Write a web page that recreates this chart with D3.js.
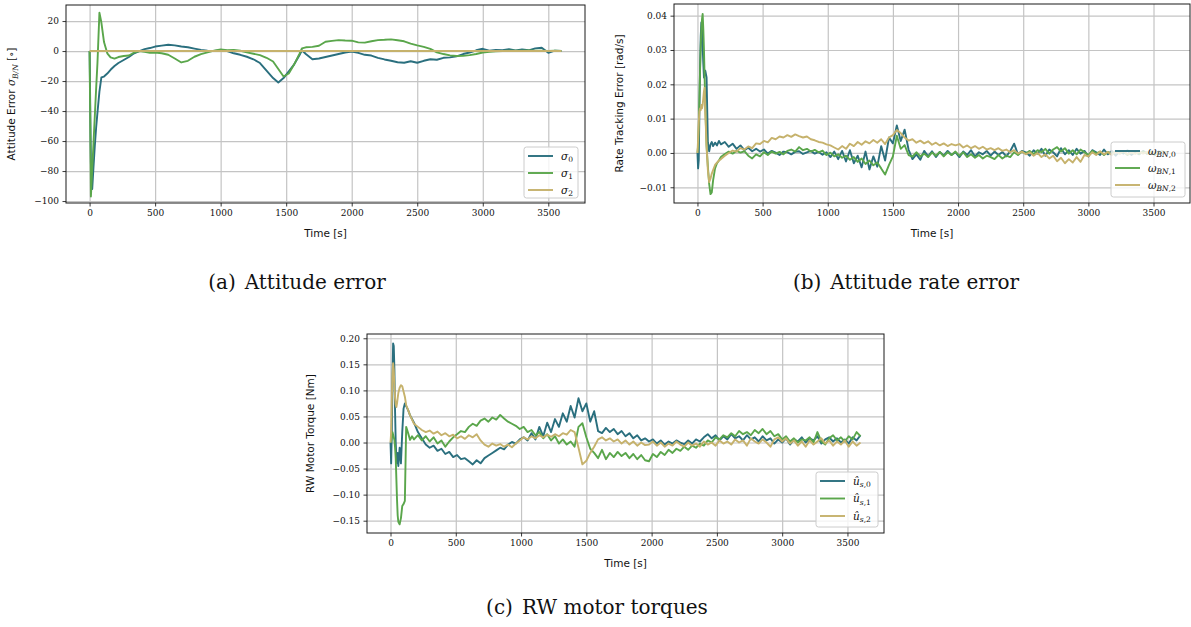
<!DOCTYPE html>
<html>
<head>
<meta charset="utf-8">
<script src="https://cdn.jsdelivr.net/npm/d3@7"></script>
<style>
  body { margin: 0; background: #fff; }
  .grid line { stroke: #c4c4c4; stroke-width: 1.2; }
  .axis text { font-family: "DejaVu Serif", serif; font-size: 9px; fill: #111; }
  .axis line { stroke: #222; stroke-width: 0.9; }
  .lbl { font-family: "DejaVu Sans", sans-serif; font-size: 10.5px; fill: #111; }
  .leg { font-family: "DejaVu Serif", serif; font-size: 10.5px; fill: #111; }
  .cap { font-family: "DejaVu Serif", serif; font-size: 20px; fill: #111; }
</style>
</head>
<body>
<svg id="figure" width="1191" height="627"></svg>
<script>
// ---------- data ----------
const X_TICKS = [0, 500, 1000, 1500, 2000, 2500, 3000, 3500];
const Y_TICKS_A = [-100, -80, -60, -40, -20, 0, 20];
const Y_TICKS_B = [-0.01, 0.00, 0.01, 0.02, 0.03, 0.04];
const Y_TICKS_C = [-0.15, -0.10, -0.05, 0.00, 0.05, 0.10, 0.15, 0.20];

// (a) attitude error, time [s]
const T_A = [0,10,20,30,40,50,60,75,90,110,135,160,190,220,260,300,340,380,420,460,
  500,550,600,650,700,750,800,850,900,950,1000,1050,1100,1150,1200,1250,1300,1350,1400,1440,
  1480,1520,1560,1600,1620,1650,1700,1750,1800,1850,1900,1950,2000,2050,2100,2150,2200,2250,
  2300,2350,2400,2450,2500,2550,2600,2650,2700,2750,2800,2850,2900,2950,3000,3050,3100,3150,
  3200,3250,3300,3350,3400,3450,3500,3550,3600];
const SIGMA_0 = [0,-75,-92,-77,-63,-51,-41,-27,-17.5,-17,-15,-12.5,-10,-8,-6,-4,-1.5,0,1.3,2,
  3,3.6,4.2,3.8,3,2.5,1.6,0.8,0.3,0,0.5,0,-1.5,-2.5,-3.8,-5.5,-8,-13,-18,-21,
  -18,-13.5,-9,-3,0.5,-2,-5.5,-5,-4,-3,-2,-1,-0.3,-1.2,-2.5,-3,-4.5,-5.6,
  -6.5,-7.5,-7.8,-6.8,-7.8,-6.5,-5.5,-5.8,-4.5,-4.2,-3.5,-2,-1,0.5,1.5,0.2,0.8,0.5,
  1.2,0.4,1,0.5,1.8,2.2,-1.2,0.3,0];
const SIGMA_1 = [0,-97,-79,-61,-43,-25,-8,25.5,19,6,-1.5,-4.2,-5,-4,-3.3,-3,-1,0,-0.5,-1.2,
  -1,-1.5,-2.5,-5,-7.6,-6.5,-3.8,-2,-0.9,0.3,1.1,0.6,0.8,0.2,-0.9,-1.8,-2.7,-4.5,-7,-12,
  -17,-15,-9,-2,1.8,2.5,2.8,3.5,6.2,6.8,7.3,7.0,6.9,5.8,5.6,6.5,7.3,7.5,
  7.8,7.2,6.5,5,3.8,2.8,1.5,-0.9,-2,-2.9,-3.3,-3.2,-2.7,-2,-1,-0.5,-0.2,0,
  0.2,0.3,0.2,0.4,0.2,0.3,0.1,0.2,0];
const SIGMA_2_T = [0, 3600];
const SIGMA_2 = [0, 0];

// (b) and (c) share one time grid [s]
const T_BC = [0,5,10,15,20,25,30,35,40,45,50,55,60,70,80,90,100,110,120,135,150,165,
  180,210,240,270,300,330,360,390,420,450,
  480,510,540,570,600,630,660,690,720,750,
  780,810,840,870,900,930,960,990,1020,1050,
  1080,1110,1140,1170,1200,1230,1260,1290,1320,1350,
  1380,1410,1440,1470,1500,1530,1560,1590,1620,1650,
  1680,1710,1740,1770,1800,1830,1860,1890,1920,1950,
  1980,2010,2040,2070,2100,2130,2160,2190,2220,2250,
  2280,2310,2340,2370,2400,2430,2460,2490,2520,2550,
  2580,2610,2640,2670,2700,2730,2760,2790,2820,2850,
  2880,2910,2940,2970,3000,3030,3060,3090,3120,3150,
  3180,3210,3240,3270,3300,3330,3360,3390,3420,3450,
  3480,3510,3540,3570,3600];

// (b) rate tracking error [rad/s]
const OMEGA_0 = [0,-0.0045,-0.002,0.012,0.025,0.034,0.038,0.036,0.031,0.026,0.022,0.023,0.024,0.022,0.003,0.0005,0.0025,0.0032,0.0020,0.0030,0.0022,0.0035,
  0.0025,0.0032,0.0018,0.0027,0.0012,0.0022,0.0008,0.0015,0.0005,0.0012,
  0.0004,0.0010,-0.0002,0.0006,0.0001,-0.0006,0.0004,0.0002,-0.0004,0.0003,
  0.0005,-0.0003,0.0002,0.0006,-0.0002,0.0003,-0.0005,0.0002,-0.0012,0.0004,
  -0.0018,0.0006,-0.0025,0.0008,-0.0030,-0.0008,-0.0042,0.0004,-0.0048,-0.0010,
  -0.0040,0.0020,-0.0022,0.0045,0.0028,0.0080,0.0035,0.0068,0.0010,-0.0018,
  -0.0004,-0.0020,0.0006,-0.0010,0.0005,-0.0012,0.0003,-0.0008,0.0006,-0.0006,
  0.0002,-0.0012,0.0004,-0.0006,0.0008,-0.0010,0.0002,-0.0004,0.0006,-0.0008,
  0.0004,-0.0006,0.0003,-0.0010,0.0005,0.0027,-0.0004,0.0006,0.0002,-0.0008,
  0.0008,-0.0002,0.0012,-0.0008,0.0010,0.0002,-0.0010,0.0014,-0.0004,0.0008,
  -0.0006,0.0012,-0.0002,0.0006,-0.0010,0.0008,0.0002,-0.0006,0.0010,-0.0004,
  0.0006,-0.0008,0.0004,-0.0002,0.0008,-0.0006,0.0003,-0.0004,0.0006,-0.0002,
  0.0004,-0.0006,0.0005,-0.0002,0.0003];
const OMEGA_1 = [0,0.002,0.008,0.016,0.024,0.031,0.036,0.039,0.0405,0.036,0.030,0.022,0.014,0.002,-0.004,-0.009,-0.012,-0.0115,-0.008,-0.0045,-0.003,-0.0022,
  -0.0012,-0.0003,0.0004,-0.0002,0.0006,0.0001,0.0005,-0.0008,-0.0016,-0.0004,
  -0.0010,0.0002,-0.0006,0.0004,-0.0002,0.0003,-0.0004,0.0006,0.0010,0.0004,
  0.0017,0.0008,0.0012,0.0004,0.0009,0.0002,0.0007,-0.0006,0.0001,-0.0010,
  -0.0004,-0.0014,-0.0008,-0.0020,-0.0012,-0.0026,-0.0016,-0.0032,-0.0022,-0.0036,
  -0.0028,-0.0045,-0.0063,-0.0035,-0.0010,0.0050,0.0012,0.0023,-0.0006,-0.0011,
  0.0002,-0.0010,-0.0002,-0.0012,0.0001,-0.0008,0.0003,-0.0010,0.0002,-0.0006,
  0.0004,-0.0008,0.0002,-0.0012,-0.0004,-0.0014,-0.0006,-0.0016,-0.0008,-0.0012,
  -0.0018,-0.0006,-0.0016,-0.0008,-0.0012,0.0002,-0.0006,0.0004,-0.0002,0.0006,
  -0.0004,0.0008,0.0002,0.0012,-0.0002,0.0010,0.0017,0.0004,0.0014,-0.0002,
  0.0008,-0.0004,0.0010,0.0002,-0.0006,0.0006,-0.0002,0.0004,-0.0006,0.0003,
  -0.0004,0.0006,-0.0002,0.0004,-0.0006,0.0002,0.0005,-0.0003,0.0004,-0.0002,
  0.0003,-0.0004,0.0002,0.0005,-0.0001];
const OMEGA_2 = [0,0.004,0.009,0.012,0.013,0.0125,0.014,0.013,0.014,0.016,0.018,0.019,0.012,0.002,-0.005,-0.0085,-0.0075,-0.006,-0.005,-0.0035,-0.0028,-0.0022,
  -0.0018,-0.0008,0.0000,0.0007,0.0004,0.0014,0.0010,0.0019,0.0014,0.0028,
  0.0026,0.0035,0.0031,0.0044,0.0040,0.0048,0.0045,0.0052,0.0047,0.0054,
  0.0049,0.0045,0.0048,0.0040,0.0037,0.0032,0.0030,0.0025,0.0022,0.0016,
  0.0010,0.0020,0.0012,0.0027,0.0020,0.0032,0.0024,0.0034,0.0028,0.0038,
  0.0030,0.0040,0.0026,0.0045,0.0052,0.0067,0.0058,0.0045,0.0036,0.0040,
  0.0030,0.0036,0.0028,0.0034,0.0024,0.0030,0.0022,0.0028,0.0020,0.0026,
  0.0022,0.0026,0.0016,0.0022,0.0014,0.0020,0.0012,0.0018,0.0010,0.0014,
  0.0008,0.0014,0.0006,0.0010,0.0002,0.0008,-0.0002,0.0004,-0.0004,0.0002,
  -0.0008,0.0000,-0.0012,-0.0004,-0.0016,-0.0008,-0.0024,-0.0014,-0.0030,-0.0018,
  -0.0028,-0.0012,-0.0026,-0.0006,-0.0010,0.0002,-0.0006,0.0004,-0.0004,0.0003,
  -0.0006,0.0004,-0.0002,0.0005,-0.0004,0.0002,-0.0003,0.0004,-0.0002,0.0003,
  -0.0004,0.0002,-0.0003,0.0004,0.0000];

// (c) RW motor torque [Nm]
const U_0 = [0,-0.04,0.02,0.12,0.19,0.185,0.14,0.06,0.0,-0.03,-0.04,-0.02,-0.045,-0.01,-0.04,0.02,0.065,0.075,0.07,0.062,0.052,0.045,
  0.038,0.020,0.008,-0.004,-0.010,-0.006,-0.016,-0.012,-0.022,-0.018,
  -0.028,-0.024,-0.032,-0.030,-0.036,-0.042,-0.034,-0.040,-0.030,-0.025,
  -0.020,-0.015,-0.010,-0.013,-0.004,0.001,-0.002,0.006,0.010,0.004,
  0.018,0.006,0.030,0.012,0.038,0.020,0.045,0.030,0.056,0.040,
  0.070,0.048,0.085,0.060,0.075,0.040,0.060,0.022,0.018,0.028,
  0.020,0.026,0.016,0.022,0.012,0.018,0.008,0.014,0.004,0.008,
  0.002,0.006,-0.002,0.004,-0.004,0.002,-0.002,0.004,0.000,-0.003,
  0.004,-0.002,0.006,0.002,0.010,0.016,0.008,0.014,0.004,0.012,
  0.006,0.016,0.008,0.012,0.004,0.014,0.006,0.010,0.002,0.012,
  0.004,0.008,-0.002,0.006,0.000,0.008,-0.004,0.006,0.002,0.010,
  0.000,0.008,0.004,0.012,-0.002,0.006,0.010,0.002,0.008,0.000,
  0.006,-0.002,0.010,0.004,0.014];
const U_1 = [0,0.002,0.01,0.02,0.015,0.01,0.005,-0.01,-0.03,-0.07,-0.11,-0.14,-0.152,-0.157,-0.145,-0.122,-0.118,-0.112,0.030,0.018,0.005,0.012,
  0.006,0.014,0.004,0.012,0.002,0.010,-0.002,0.004,-0.008,0.002,
  0.010,0.016,0.022,0.020,0.030,0.036,0.032,0.042,0.046,0.040,
  0.048,0.044,0.053,0.046,0.040,0.036,0.032,0.026,0.030,0.020,
  0.024,0.014,0.020,0.008,0.016,0.004,0.012,-0.002,0.006,-0.004,
  0.002,-0.008,0.030,0.037,0.010,-0.012,-0.020,-0.030,-0.014,-0.032,
  -0.020,-0.028,-0.018,-0.026,-0.020,-0.030,-0.022,-0.032,-0.024,-0.034,
  -0.036,-0.022,-0.028,-0.018,-0.024,-0.014,-0.020,-0.012,-0.016,-0.008,
  -0.014,-0.006,-0.010,-0.002,-0.006,0.004,0.000,0.010,0.006,0.014,
  0.010,0.018,0.012,0.022,0.016,0.020,0.014,0.024,0.018,0.026,
  0.016,0.022,0.012,0.016,0.006,0.012,0.002,0.008,0.000,0.006,
  0.004,0.010,0.000,0.020,0.002,-0.004,0.008,0.014,0.004,0.010,
  0.002,0.012,0.006,0.020,0.012];
const U_2 = [0,0.02,0.08,0.13,0.152,0.14,0.11,0.085,0.072,0.068,0.075,0.085,0.095,0.105,0.11,0.108,0.098,0.088,0.072,0.062,0.052,0.044,
  0.036,0.030,0.024,0.020,0.023,0.017,0.021,0.014,0.018,0.012,
  0.015,0.008,0.012,0.007,0.014,0.010,0.016,0.004,-0.004,-0.008,
  -0.002,-0.006,-0.003,-0.008,-0.004,-0.009,-0.002,0.004,0.010,0.006,
  0.012,0.008,0.014,0.010,0.015,0.011,0.016,0.012,0.018,0.015,
  0.024,0.020,-0.010,-0.042,-0.035,-0.020,-0.008,0.006,0.010,0.004,
  0.008,0.002,0.006,-0.002,0.004,-0.004,0.002,-0.006,0.000,-0.005,
  -0.004,0.002,-0.006,0.000,-0.008,-0.002,-0.006,0.002,-0.004,-0.008,
  0.000,-0.006,-0.002,-0.008,0.002,-0.004,0.000,-0.006,0.004,-0.002,
  0.002,-0.004,0.006,0.000,0.004,-0.006,0.008,0.002,-0.002,0.006,
  0.000,-0.008,0.006,0.010,0.002,0.008,-0.002,0.004,-0.006,0.002,
  -0.008,0.004,-0.004,0.002,0.008,-0.002,0.004,-0.006,0.002,-0.004,
  0.004,-0.008,0.002,-0.006,0.000];

const COLORS = ["#2a6f7e", "#5aa64b", "#c6b26c"];

// ---------- layout ----------
const FIG = d3.select("#figure");
const X_DOMAIN = [-180, 3780];

// small helper: text made of parts, some italic / subscript
function add_parts(textSel, parts) {
  let shift = 0;
  parts.forEach((p) => {
    const want = p.sub ? 2.8 : 0;
    const ts = textSel.append("tspan")
      .attr("dy", want - shift)
      .text(p.t);
    if (p.i) ts.attr("font-style", "italic");
    if (p.sub) ts.attr("font-size", "7.5px");
    if (p.f) ts.attr("font-family", p.f);
    shift = want;
  });
}

function build_panel(p) {
  const X = d3.scaleLinear().domain(X_DOMAIN).range([p.left, p.right]);
  const Y = d3.scaleLinear().domain(p.yDomain).range([p.bottom, p.top]);
  const W = p.right - p.left, H = p.bottom - p.top;
  const g = FIG.append("g");

  FIG.append("clipPath").attr("id", "clip-" + p.id)
    .append("rect").attr("x", p.left).attr("y", p.top).attr("width", W).attr("height", H);

  // grid
  g.append("g").attr("class", "grid")
    .attr("transform", "translate(0," + p.bottom + ")")
    .call(d3.axisBottom(X).tickValues(X_TICKS).tickSize(-H).tickFormat(""));
  g.append("g").attr("class", "grid")
    .attr("transform", "translate(" + p.left + ",0)")
    .call(d3.axisLeft(Y).tickValues(p.yTicks).tickSize(-W).tickFormat(""));
  g.selectAll(".grid .domain").remove();

  // lines
  p.series.forEach((s) => {
    const line = d3.line()
      .x((d, i) => X(s.t[i]))
      .y((d) => Y(d));
    g.append("path")
      .datum(s.v)
      .attr("d", line)
      .attr("fill", "none")
      .attr("stroke", s.color)
      .attr("stroke-width", 1.9)
      .attr("stroke-linejoin", "round")
      .attr("clip-path", "url(#clip-" + p.id + ")");
  });

  // axes
  const xa = g.append("g").attr("class", "axis")
    .attr("transform", "translate(0," + p.bottom + ")")
    .call(d3.axisBottom(X).tickValues(X_TICKS).tickSize(3.5).tickPadding(3.5).tickFormat(d3.format("d")));
  const ya = g.append("g").attr("class", "axis")
    .attr("transform", "translate(" + p.left + ",0)")
    .call(d3.axisLeft(Y).tickValues(p.yTicks).tickSize(3.5).tickPadding(3.5).tickFormat(p.yFormat));
  xa.select(".domain").remove();
  ya.select(".domain").remove();

  g.append("rect")
    .attr("x", p.left).attr("y", p.top).attr("width", W).attr("height", H)
    .attr("fill", "none").attr("stroke", "#1a1a1a").attr("stroke-width", 1);

  // axis labels
  g.append("text").attr("class", "lbl")
    .attr("x", (p.left + p.right) / 2).attr("y", p.bottom + 34)
    .attr("text-anchor", "middle")
    .text("Time [s]");
  const yl = g.append("text").attr("class", "lbl")
    .attr("text-anchor", "middle")
    .attr("transform", "translate(" + p.ylabelX + "," + (p.top + p.bottom) / 2 + ") rotate(-90)");
  add_parts(yl, p.ylabel);

  // legend
  const lg = p.legend;
  g.append("rect")
    .attr("x", lg.x).attr("y", lg.y).attr("width", lg.w).attr("height", lg.h)
    .attr("rx", 2.5)
    .attr("fill", "#fff").attr("fill-opacity", 0.8)
    .attr("stroke", "#cccccc").attr("stroke-width", 1);
  p.series.forEach((s, i) => {
    const yy = lg.y + 9 + i * lg.step;
    g.append("line")
      .attr("x1", lg.x + 4).attr("x2", lg.x + 29)
      .attr("y1", yy).attr("y2", yy)
      .attr("stroke", s.color).attr("stroke-width", 1.9);
    const t = g.append("text").attr("class", "leg")
      .attr("x", lg.x + 37).attr("y", yy + 3.5);
    add_parts(t, s.label);
  });
}

const SERIF = "DejaVu Serif";

build_panel({
  id: "a", left: 66, top: 5, right: 585, bottom: 203,
  yDomain: [-101.3, 30.7], yTicks: Y_TICKS_A, yFormat: d3.format("d"),
  ylabelX: 15,
  ylabel: [{t: "Attitude Error "}, {t: "σ", i: true, f: SERIF}, {t: "B/N", i: true, sub: true, f: SERIF},
           {t: " [∘]", f: SERIF}],
  legend: {x: 524, y: 147, w: 54, h: 51, step: 17},
  series: [
    {t: T_A, v: SIGMA_0, color: COLORS[0], label: [{t: "σ", i: true}, {t: "0", sub: true}]},
    {t: T_A, v: SIGMA_1, color: COLORS[1], label: [{t: "σ", i: true}, {t: "1", sub: true}]},
    {t: SIGMA_2_T, v: SIGMA_2, color: COLORS[2], label: [{t: "σ", i: true}, {t: "2", sub: true}]}
  ]
});

build_panel({
  id: "b", left: 674, top: 4, right: 1190, bottom: 203,
  yDomain: [-0.01458, 0.0434], yTicks: Y_TICKS_B, yFormat: d3.format(".2f"),
  ylabelX: 623,
  ylabel: [{t: "Rate Tracking Error [rad/s]"}],
  legend: {x: 1111, y: 142, w: 74, h: 55, step: 17},
  series: [
    {t: T_BC, v: OMEGA_0, color: COLORS[0], label: [{t: "ω", i: true}, {t: "BN", i: true, sub: true}, {t: ",0", sub: true}]},
    {t: T_BC, v: OMEGA_1, color: COLORS[1], label: [{t: "ω", i: true}, {t: "BN", i: true, sub: true}, {t: ",1", sub: true}]},
    {t: T_BC, v: OMEGA_2, color: COLORS[2], label: [{t: "ω", i: true}, {t: "BN", i: true, sub: true}, {t: ",2", sub: true}]}
  ]
});

build_panel({
  id: "c", left: 367, top: 334, right: 884, bottom: 533,
  yDomain: [-0.1736, 0.2082], yTicks: Y_TICKS_C, yFormat: d3.format(".2f"),
  ylabelX: 314,
  ylabel: [{t: "RW Motor Torque [Nm]"}],
  legend: {x: 816, y: 472, w: 62, h: 55, step: 17.5},
  series: [
    {t: T_BC, v: U_0, color: COLORS[0], label: [{t: "û", i: true}, {t: "s", i: true, sub: true}, {t: ",0", sub: true}]},
    {t: T_BC, v: U_1, color: COLORS[1], label: [{t: "û", i: true}, {t: "s", i: true, sub: true}, {t: ",1", sub: true}]},
    {t: T_BC, v: U_2, color: COLORS[2], label: [{t: "û", i: true}, {t: "s", i: true, sub: true}, {t: ",2", sub: true}]}
  ]
});

// sub-captions
const CAPTIONS = [
  {x: 297, y: 289, tag: "(a)", text: "Attitude error"},
  {x: 906, y: 289, tag: "(b)", text: "Attitude rate error"},
  {x: 597, y: 614, tag: "(c)", text: "RW motor torques"}
];
CAPTIONS.forEach((c) => {
  const t = FIG.append("text").attr("class", "cap")
    .attr("x", c.x).attr("y", c.y).attr("text-anchor", "middle");
  t.append("tspan").text(c.tag);
  t.append("tspan").attr("dx", 9).text(c.text);
});
</script>
</body>
</html>
